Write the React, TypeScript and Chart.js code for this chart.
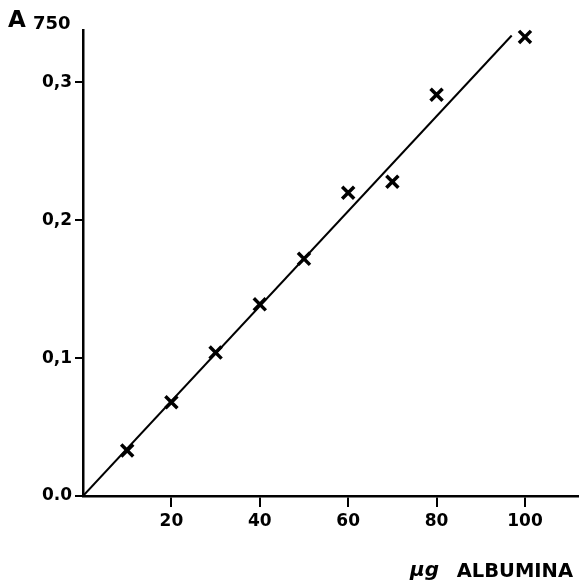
import React, { useEffect, useRef } from "react";
import { Chart, registerables } from "chart.js";

Chart.register(...registerables);

const albuminaUg = [10, 20, 30, 40, 50, 60, 70, 80, 100];
const absorbance = [0.033, 0.068, 0.104, 0.139, 0.172, 0.22, 0.228, 0.291, 0.333];
const fitLineX = [0, 97];
const fitLineY = [0, 0.334];
const yTickValues = [0, 0.1, 0.2, 0.3];
const yTickLabels = ["0.0", "0,1", "0,2", "0,3"];
const xTickValues = [20, 40, 60, 80, 100];
const xTickLabels = ["20", "40", "60", "80", "100"];

const FONT = "'DejaVu Sans', sans-serif";

const labelsPlugin = {
  id: "axisLabels",
  afterDraw(chart: any) {
    const ctx = chart.ctx;
    ctx.save();
    ctx.fillStyle = "#000";
    ctx.textBaseline = "alphabetic";
    ctx.textAlign = "left";
    ctx.font = `bold 23px ${FONT}`;
    ctx.fillText("A", 8, 27);
    ctx.font = `bold 18px ${FONT}`;
    ctx.fillText("750", 33, 29);
    ctx.font = `bold 19.5px ${FONT}`;
    ctx.textAlign = "right";
    ctx.fillText("ALBUMINA", 573, 577);
    ctx.font = `italic bold 20px ${FONT}`;
    ctx.textAlign = "left";
    ctx.fillText("µg", 410, 576);
    ctx.restore();
  },
};

export default function App() {
  const ref = useRef<HTMLCanvasElement | null>(null);
  useEffect(() => {
    document.body.style.margin = "0";
    const canvas = ref.current!;
    const chart = new Chart(canvas, {
      type: "scatter",
      data: {
        datasets: [
          {
            type: "line",
            data: fitLineX.map((x, i) => ({ x, y: fitLineY[i] })),
            borderColor: "#000",
            borderWidth: 2,
            pointRadius: 0,
            fill: false,
          } as any,
          {
            data: albuminaUg.map((x, i) => ({ x, y: absorbance[i] })),
            pointStyle: "crossRot",
            pointRadius: 8.5,
            borderColor: "#000",
            borderWidth: 3.5,
            backgroundColor: "#000",
            clip: false,
          } as any,
        ],
      },
      options: {
        animation: false,
        responsive: false,
        maintainAspectRatio: false,
        layout: { autoPadding: false, padding: { left: 0, top: 30, right: 3, bottom: 0 } },
        plugins: { legend: { display: false }, tooltip: { enabled: false } },
        scales: {
          x: {
            type: "linear",
            min: 0,
            max: 112,
            afterFit: (s: any) => {
              s.height = 85;
              s.paddingRight = 0;
              s.paddingLeft = 0;
            },
            afterBuildTicks: (s: any) => {
              s.ticks = xTickValues.map((v) => ({ value: v }));
            },
            ticks: {
              color: "#000",
              font: { family: FONT, size: 17, weight: "bold" },
              padding: 4,
              maxRotation: 0,
              includeBounds: false,
              callback: (v: any) => {
                const i = xTickValues.indexOf(Number(v));
                return i >= 0 ? xTickLabels[i] : "";
              },
            },
            grid: {
              display: true,
              drawOnChartArea: false,
              drawTicks: true,
              tickLength: 11,
              color: "#000",
              lineWidth: 2,
            },
            border: { display: true, color: "#000", width: 2.5 },
          },
          y: {
            type: "linear",
            min: 0,
            max: 0.338,
            afterFit: (s: any) => {
              s.width = 83;
              s.paddingTop = 0;
              s.paddingBottom = 0;
            },
            afterBuildTicks: (s: any) => {
              s.ticks = yTickValues.map((v) => ({ value: v }));
            },
            ticks: {
              color: "#000",
              font: { family: FONT, size: 17, weight: "bold" },
              padding: 3,
              includeBounds: false,
              callback: (v: any) => {
                const i = yTickValues.findIndex((t) => Math.abs(t - Number(v)) < 1e-9);
                return i >= 0 ? yTickLabels[i] : "";
              },
            },
            grid: {
              display: true,
              drawOnChartArea: false,
              drawTicks: true,
              tickLength: 8,
              color: "#000",
              lineWidth: 2,
            },
            border: { display: true, color: "#000", width: 2.5 },
          },
        },
      },
      plugins: [labelsPlugin],
    });
    return () => chart.destroy();
  }, []);
  return (
    <div style={{ position: "fixed", left: 0, top: 0, width: 581, height: 581, background: "#fff" }}>
      <canvas ref={ref} width={581} height={581} style={{ width: 581, height: 581, display: "block" }} />
    </div>
  );
}
